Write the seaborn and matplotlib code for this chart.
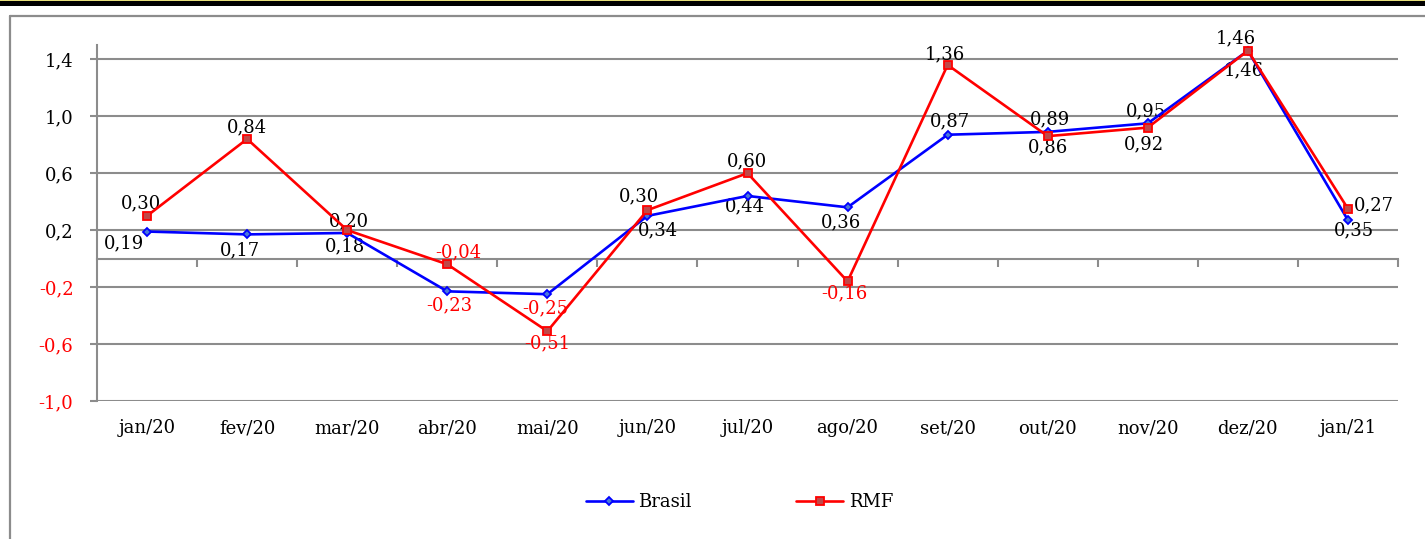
import numpy as np
import pandas as pd
import matplotlib
matplotlib.use("Agg")
import matplotlib.pyplot as plt
from matplotlib.patches import Rectangle
from matplotlib.lines import Line2D
import seaborn as sns

# Monthly variation (%) — Brasil vs RMF
months = ["jan/20", "fev/20", "mar/20", "abr/20", "mai/20", "jun/20", "jul/20",
          "ago/20", "set/20", "out/20", "nov/20", "dez/20", "jan/21"]
brasil = [0.19, 0.17, 0.18, -0.23, -0.25, 0.30, 0.44, 0.36, 0.87, 0.89, 0.95, 1.46, 0.27]
rmf = [0.30, 0.84, 0.20, -0.04, -0.51, 0.34, 0.60, -0.16, 1.36, 0.86, 0.92, 1.46, 0.35]
y_ticks = [-1.0, -0.6, -0.2, 0.2, 0.6, 1.0, 1.4]

# data-label offsets in pixels (dx, dy) from each point
brasil_label_offsets = [(-23, -12), (-7, -16), (-2, -13), (2, -14), (-2, -14), (-8, 20),
                        (-3, -10), (-7, -15), (2, 13), (2, 13), (-2, 12), (-4, -20), (26, 15)]
rmf_label_offsets = [(-6, 13), (0, 12), (2, 9), (11, 12), (0, -12), (11, -20), (0, 12),
                     (-3, -12), (-3, 11), (0, -11), (-4, -17), (-12, 12), (6, -22)]


def fmt(v, decimals):
    return f"{v:.{decimals}f}".replace(".", ",")


sns.set_theme(style="white")
plt.rcParams["font.family"] = ["DejaVu Serif"]
plt.rcParams["font.size"] = 13
plt.rcParams["text.color"] = "black"
plt.rcParams["xtick.labelcolor"] = "black"
plt.rcParams["ytick.labelcolor"] = "black"

FS = 13
GRAY = "#8c8c8c"
BLUE = "#0000ff"
RED = "#ff0000"
W, H = 1425, 539

fig = plt.figure(figsize=(W / 100, H / 100), dpi=100)
ax = fig.add_axes([97 / W, 1 - 401 / H, (1398 - 97) / W, (401 - 45) / H])

n = len(months)
df = pd.DataFrame({
    "pos": np.tile(np.arange(n), 2),
    "valor": brasil + rmf,
    "serie": ["Brasil"] * n + ["RMF"] * n,
})
sns.lineplot(data=df, x="pos", y="valor", hue="serie", style="serie",
             palette={"Brasil": BLUE, "RMF": RED},
             markers={"Brasil": "D", "RMF": "s"}, dashes=False,
             linewidth=1.9, legend=False, sort=False, ax=ax)

line_b, line_r = ax.get_lines()[:2]
line_b.set(markersize=3.8, markeredgecolor=BLUE, markerfacecolor="#4a78d8",
           markeredgewidth=1.3, zorder=3)
line_r.set(markersize=6.3, markeredgecolor=RED, markerfacecolor="#c04848",
           markeredgewidth=1.3, zorder=3.1)

# axes styling
ylim = (-1.0, 1.5)
ax.set_xlim(-0.5, n - 0.5)
ax.set_ylim(*ylim)
ax.set_xlabel("")
ax.set_ylabel("")
ax.set_yticks(y_ticks)
ax.set_yticklabels([fmt(v, 1) for v in y_ticks])
for lbl, v in zip(ax.get_yticklabels(), y_ticks):
    lbl.set_color(RED if v < 0 else "black")
ax.set_xticks(np.arange(n))
ax.set_xticklabels(months)
ax.tick_params(axis="x", length=0, pad=13, labelsize=FS, labelcolor="black")
ax.tick_params(axis="y", left=True, length=5, width=1.5, color=GRAY, pad=12,
               direction="out", labelsize=FS)
ax.yaxis.grid(True, color=GRAY, linewidth=1.5)
ax.xaxis.grid(False)
ax.set_axisbelow(True)
for side in ("top", "right", "bottom"):
    ax.spines[side].set_visible(False)
ax.spines["left"].set_color(GRAY)
ax.spines["left"].set_linewidth(1.5)

# category axis crossing at zero, with boundary tick marks
zero_frac = (0 - ylim[0]) / (ylim[1] - ylim[0])
sec = ax.secondary_xaxis(zero_frac)
sec.set_xticks(np.arange(0.5, n, 1.0))
sec.tick_params(axis="x", length=6, width=1.5, color=GRAY, direction="out",
                labelbottom=False, labeltop=False)
for s in sec.spines.values():
    s.set_color(GRAY)
    s.set_linewidth(1.5)

# data labels
for values, offsets in ((brasil, brasil_label_offsets), (rmf, rmf_label_offsets)):
    for i, (v, (dx, dy)) in enumerate(zip(values, offsets)):
        ax.annotate(fmt(v, 2), xy=(i, v), xytext=(dx, dy), textcoords="offset pixels",
                    ha="center", va="center", fontsize=FS,
                    color=RED if v < 0 else "black", zorder=2.5)

# legend
fig.legend(handles=[line_b, line_r], labels=["Brasil", "RMF"], loc="center",
           bbox_to_anchor=(739.5 / W, 1 - 502 / H), ncol=2, frameon=False,
           handlelength=2.6, handletextpad=0.3, columnspacing=5.8, fontsize=FS,
           borderpad=0, labelcolor="black")

# page rule on top and chart-area border
fig.patches.append(Rectangle((0, 1 - 6 / H), 1, 6 / H, transform=fig.transFigure,
                             facecolor="black", edgecolor="none", zorder=0))
fig.patches.append(Rectangle((0, 1 - 1 / H), 1, 1 / H, transform=fig.transFigure,
                             facecolor="#e8e07a", edgecolor="none", zorder=0.1))
fig.lines.append(Line2D([10 / W, 10 / W], [0, 1 - 16 / H], transform=fig.transFigure,
                        color=GRAY, linewidth=1.6))
fig.lines.append(Line2D([10 / W, 1], [1 - 16 / H, 1 - 16 / H], transform=fig.transFigure,
                        color=GRAY, linewidth=1.6))

fig.savefig("out.png", dpi=100)
